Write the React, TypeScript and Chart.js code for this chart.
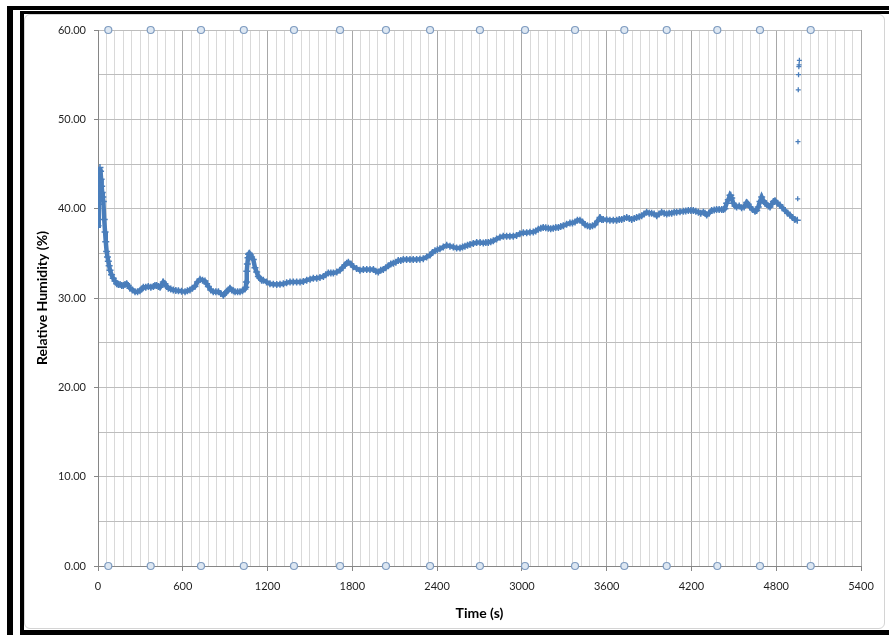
import React, { useEffect, useRef } from 'react';
import { Chart, registerables } from 'chart.js';

Chart.register(...registerables);

// Time (s) of each humidity sample
const timeS = [
  0, 4, 7, 10, 14, 18, 22, 26, 30, 34,
  38, 44, 50, 55, 61, 67, 73, 79, 85, 96,
  108, 120, 132, 144, 156, 168, 179, 191, 203, 214,
  226, 244, 262, 280, 297, 309, 321, 338, 356, 374,
  392, 403, 415, 427, 439, 451, 462, 474, 486, 498,
  515, 533, 551, 569, 592, 616, 633, 651, 668, 686,
  704, 722, 740, 757, 769, 781, 798, 816, 834, 852,
  869, 887, 898, 910, 922, 934, 946, 958, 970, 988,
  1005, 1023, 1040, 1046, 1050, 1053, 1057, 1062, 1066, 1071,
  1080, 1087, 1099, 1111, 1123, 1135, 1146, 1158, 1170, 1193,
  1217, 1241, 1265, 1288, 1312, 1335, 1359, 1382, 1406, 1430,
  1453, 1477, 1501, 1524, 1548, 1571, 1595, 1612, 1630, 1648,
  1666, 1690, 1713, 1730, 1748, 1760, 1772, 1790, 1807, 1830,
  1854, 1878, 1902, 1925, 1949, 1966, 1984, 2001, 2019, 2037,
  2055, 2072, 2090, 2108, 2125, 2143, 2161, 2184, 2208, 2231,
  2255, 2278, 2302, 2326, 2350, 2367, 2385, 2402, 2420, 2444,
  2468, 2491, 2515, 2538, 2562, 2580, 2597, 2615, 2633, 2656,
  2680, 2704, 2727, 2745, 2762, 2780, 2798, 2821, 2845, 2868,
  2892, 2915, 2939, 2962, 2986, 3010, 3034, 3057, 3081, 3098,
  3116, 3134, 3151, 3169, 3187, 3204, 3222, 3240, 3258, 3275,
  3293, 3316, 3340, 3358, 3376, 3393, 3411, 3429, 3447, 3464,
  3482, 3500, 3517, 3535, 3553, 3565, 3576, 3600, 3623, 3647,
  3671, 3689, 3706, 3724, 3742, 3760, 3777, 3795, 3812, 3830,
  3848, 3865, 3883, 3901, 3918, 3936, 3954, 3971, 3989, 4007,
  4025, 4042, 4060, 4078, 4095, 4119, 4143, 4160, 4178, 4196,
  4213, 4231, 4249, 4266, 4284, 4296, 4308, 4325, 4343, 4361,
  4378, 4396, 4414, 4426, 4437, 4449, 4461, 4473, 4478, 4485,
  4496, 4508, 4520, 4538, 4555, 4573, 4591, 4602, 4614, 4632,
  4650, 4662, 4673, 4685, 4697, 4709, 4720, 4732, 4744, 4756,
  4768, 4780, 4791, 4809, 4826, 4844, 4862, 4880, 4897, 4915,
  4932, 4949,
];

// Relative humidity (%) of each sample
const humidity = [
  38.1, 40.5, 43.2, 44.3, 44.6, 44.2, 43.3, 42.5, 41.8, 41.3,
  40.8, 38.8, 37.4, 36.3, 35.2, 34.6, 34.1, 33.6, 33.1, 32.6,
  32.2, 31.9, 31.6, 31.5, 31.5, 31.4, 31.4, 31.5, 31.6, 31.4,
  31.1, 30.9, 30.7, 30.7, 30.8, 31.0, 31.2, 31.2, 31.3, 31.2,
  31.3, 31.4, 31.4, 31.3, 31.2, 31.5, 31.8, 31.6, 31.3, 31.1,
  31.0, 30.9, 30.85, 30.8, 30.75, 30.7, 30.8, 30.9, 31.1, 31.3,
  31.8, 32.1, 32.0, 31.9, 31.6, 31.3, 30.9, 30.7, 30.7, 30.7,
  30.5, 30.3, 30.5, 30.7, 30.9, 31.1, 30.9, 30.8, 30.7, 30.7,
  30.7, 30.8, 31.0, 31.2, 31.8, 33.0, 33.8, 34.5, 34.9, 35.0,
  34.8, 34.6, 34.3, 33.4, 32.9, 32.4, 32.2, 32.0, 32.0, 31.8,
  31.6, 31.55, 31.5, 31.55, 31.6, 31.7, 31.8, 31.8, 31.8, 31.8,
  31.85, 32.0, 32.1, 32.2, 32.2, 32.3, 32.4, 32.6, 32.8, 32.8,
  32.8, 32.9, 33.1, 33.4, 33.7, 33.9, 34.0, 33.8, 33.5, 33.3,
  33.1, 33.2, 33.2, 33.2, 33.2, 33.0, 32.9, 33.1, 33.2, 33.4,
  33.6, 33.8, 33.9, 34.0, 34.2, 34.2, 34.3, 34.3, 34.3, 34.3,
  34.3, 34.35, 34.4, 34.6, 34.8, 35.1, 35.3, 35.4, 35.5, 35.7,
  35.9, 35.8, 35.7, 35.6, 35.6, 35.7, 35.8, 35.9, 36.0, 36.1,
  36.2, 36.2, 36.15, 36.2, 36.2, 36.3, 36.4, 36.6, 36.8, 36.9,
  36.9, 36.9, 36.9, 37.0, 37.2, 37.3, 37.3, 37.35, 37.4, 37.5,
  37.7, 37.8, 37.9, 37.85, 37.8, 37.75, 37.8, 37.9, 37.9, 38.0,
  38.1, 38.25, 38.4, 38.4, 38.5, 38.7, 38.7, 38.5, 38.2, 38.1,
  38.0, 38.1, 38.2, 38.6, 39.0, 38.8, 38.8, 38.75, 38.7, 38.7,
  38.7, 38.8, 38.8, 38.9, 39.0, 38.9, 38.8, 38.9, 39.0, 39.1,
  39.2, 39.4, 39.6, 39.5, 39.5, 39.4, 39.2, 39.4, 39.6, 39.5,
  39.4, 39.5, 39.5, 39.6, 39.6, 39.65, 39.7, 39.75, 39.8, 39.8,
  39.8, 39.7, 39.6, 39.5, 39.6, 39.5, 39.3, 39.5, 39.8, 39.85,
  39.9, 39.9, 39.9, 39.9, 40.0, 40.6, 41.0, 41.5, 41.5, 41.2,
  40.6, 40.3, 40.2, 40.3, 40.1, 40.2, 40.7, 40.5, 40.2, 39.9,
  39.7, 39.8, 40.2, 40.8, 41.3, 40.9, 40.6, 40.5, 40.3, 40.2,
  40.5, 40.8, 40.9, 40.6, 40.4, 40.1, 39.8, 39.5, 39.3, 39.0,
  38.8, 38.7,
];

// Final jump of the sensor at the end of the run (shown as separate markers)
const spikeTimeS = [4952, 4954, 4956, 4958, 4960, 4962, 4964];
const spikeHumidity = [41.1, 47.5, 53.3, 55.0, 55.9, 56.1, 56.6];

// Event markers drawn at the bottom and top of the axis
const eventTimesS = [73, 373, 729, 1032, 1387, 1713, 2038, 2350, 2703, 3022, 3376, 3725, 4025, 4383, 4685, 5044];
const eventLevels = [0, 60];

// Axis settings
const xMin = 0;
const xMax = 5400;
const xMinorStep = 60;
const xMajorStep = 600;
const yMin = 0;
const yMax = 60;
const yMinorStep = 5;
const yMajorStep = 10;

const FONT = 'Lato, "Open Sans", "DejaVu Sans", sans-serif';
const SERIES_BLUE = '#4a7ebb';

export default function App() {
  const canvasRef = useRef<HTMLCanvasElement | null>(null);

  useEffect(() => {
    if (!canvasRef.current) return;
    const mainPoints = timeS.map((t, i) => ({ x: t, y: humidity[i] }));
    const spikePoints = spikeTimeS.map((t, i) => ({ x: t, y: spikeHumidity[i] }));
    const eventPoints: { x: number; y: number }[] = [];
    eventLevels.forEach((lvl) => eventTimesS.forEach((t) => eventPoints.push({ x: t, y: lvl })));

    const isMult = (v: number, step: number) => Math.abs(Math.round(v / step) * step - v) < 1e-6;

    const chart = new Chart(canvasRef.current, {
      type: 'scatter',
      data: {
        datasets: [
          {
            label: 'Events',
            data: eventPoints,
            showLine: false,
            pointStyle: 'circle',
            pointRadius: 3.5,
            pointBorderWidth: 1.2,
            pointBorderColor: '#7f9cc0',
            pointBackgroundColor: '#dde7f2',
            clip: false as any,
          },
          {
            label: 'Relative Humidity',
            data: mainPoints,
            showLine: true,
            borderColor: SERIES_BLUE,
            borderWidth: 4.5,
            pointStyle: 'cross',
            pointRadius: 3.5,
            pointBorderWidth: 1.5,
            pointBorderColor: SERIES_BLUE,
            pointBackgroundColor: SERIES_BLUE,
          },
          {
            label: 'Spike',
            data: spikePoints,
            showLine: false,
            pointStyle: 'cross',
            pointRadius: 2.5,
            pointBorderWidth: 1.3,
            pointBorderColor: SERIES_BLUE,
            pointBackgroundColor: SERIES_BLUE,
          },
        ],
      },
      options: {
        animation: false,
        responsive: false,
        maintainAspectRatio: false,
        events: [],
        layout: { padding: { top: 16, right: 24, bottom: 0, left: 0 } },
        plugins: {
          legend: { display: false },
          tooltip: { enabled: false },
        },
        scales: {
          x: {
            type: 'linear',
            min: xMin,
            max: xMax,
            ticks: {
              stepSize: xMinorStep,
              autoSkip: false,
              maxRotation: 0,
              minRotation: 0,
              padding: 9,
              color: '#1f1f1f',
              font: { family: FONT, size: 11 },
              callback: (v: any) => (isMult(Number(v), xMajorStep) ? String(Math.round(Number(v))) : ''),
            },
            grid: {
              color: (ctx: any) => (isMult(ctx.tick.value, xMajorStep) ? '#a8a8a8' : '#d9d9d9'),
              tickColor: (ctx: any) => (isMult(ctx.tick.value, xMajorStep) ? '#868686' : 'rgba(0,0,0,0)'),
              tickLength: 5,
              lineWidth: 1,
            },
            border: { color: '#868686', width: 1 },
            title: {
              display: true,
              text: 'Time (s)',
              color: '#000000',
              font: { family: FONT, size: 14, weight: 'bold' },
              padding: { top: 0, bottom: 6 },
            },
            afterFit: (scale: any) => {
              scale.height = 62;
            },
          },
          y: {
            type: 'linear',
            min: yMin,
            max: yMax,
            ticks: {
              stepSize: yMinorStep,
              autoSkip: false,
              padding: 8,
              color: '#1f1f1f',
              font: { family: FONT, size: 11 },
              callback: (v: any) => (isMult(Number(v), yMajorStep) ? Number(v).toFixed(2) : ''),
            },
            grid: {
              color: '#bdbdbd',
              tickColor: (ctx: any) => (isMult(ctx.tick.value, yMajorStep) ? '#868686' : 'rgba(0,0,0,0)'),
              tickLength: 4,
              lineWidth: 1,
            },
            border: { color: '#868686', width: 1 },
            title: {
              display: true,
              text: 'Relative Humidity (%)',
              color: '#000000',
              font: { family: FONT, size: 14, weight: 'bold' },
              padding: { top: 9, bottom: 0 },
            },
            afterFit: (scale: any) => {
              scale.width = 73;
            },
          },
        },
      } as any,
    });
    return () => chart.destroy();
  }, []);

  return (
    <div
      style={{
        position: 'fixed',
        left: 0,
        top: 0,
        width: 889,
        height: 635,
        background: '#ffffff',
        overflow: 'hidden',
      }}
    >
      {/* outer black frame */}
      <div
        style={{
          position: 'absolute',
          left: 7,
          top: 6,
          width: 900,
          height: 650,
          borderTop: '4px solid #000',
          borderLeft: '6px solid #000',
          boxSizing: 'border-box',
        }}
      />
      {/* inner black frame */}
      <div
        style={{
          position: 'absolute',
          left: 20,
          top: 11,
          width: 900,
          height: 624,
          borderTop: '3px solid #000',
          borderLeft: '4px solid #000',
          borderBottom: '5px solid #000',
          boxSizing: 'border-box',
        }}
      />
      {/* chart area */}
      <div
        style={{
          position: 'absolute',
          left: 24,
          top: 14,
          width: 861,
          height: 615,
          border: '1px solid #d4d4d4',
          borderRadius: 6,
          background: '#ffffff',
          boxSizing: 'border-box',
        }}
      />
      <canvas
        ref={canvasRef}
        width={860}
        height={614}
        style={{ position: 'absolute', left: 25, top: 14, width: 860, height: 614 }}
      />
    </div>
  );
}
